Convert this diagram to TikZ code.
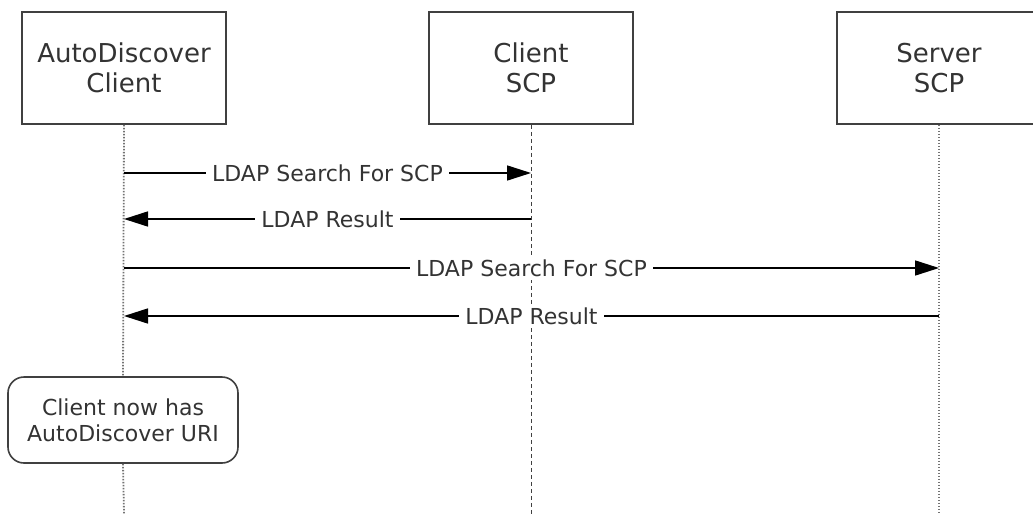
\documentclass[tikz,border=0pt]{standalone}
\usepackage{fontspec}
\setmainfont{DejaVu Sans}
\usetikzlibrary{arrows.meta}

\tikzset{
  actor/.style={draw=black!75, line width=1.6pt, fill=white, minimum width=204pt,
    minimum height=112pt, inner sep=0pt, align=center,
    font=\fontsize{26}{30}\selectfont, text=black!80},
  lifeline/.style={draw=black!55, line width=1.8pt, dash pattern=on 1.5pt off 1.5pt},
  midline/.style={draw=black!75, line width=1pt, dash pattern=on 4pt off 3pt},
  msg/.style={line width=1.6pt, -{Triangle[length=24pt,width=15pt]}},
  msglabel/.style={fill=white, inner xsep=6pt, inner ysep=3pt,
    font=\fontsize{22}{26}\selectfont, text=black!80},
  notebox/.style={draw=black!75, line width=1.6pt, fill=white, rounded corners=16pt,
    minimum width=230pt, minimum height=86pt, inner sep=0pt, align=center,
    font=\fontsize{22}{26}\selectfont, text=black!80}
}

\begin{document}
\begin{tikzpicture}[x=1pt, y=-1pt]
    \useasboundingbox (0,0) rectangle (1033,514);

    % participants
    \node[actor] (client) at (124,68) {AutoDiscover\\Client};
    \node[actor] (clientscp) at (531,68) {Client\\SCP};
    \node[actor] (serverscp) at (939,68) {Server\\SCP};

    % note on the client lifeline
    \node[notebox] (note) at (123,420) {Client now has\\AutoDiscover URI};

    % lifelines
    \coordinate (clientend) at (124,514);
    \coordinate (clientscpend) at (531,514);
    \coordinate (serverscpend) at (939,514);
    \draw[lifeline] (client.south) -- (note.north);
    \draw[lifeline] (note.south) -- (clientend);
    \draw[midline] (clientscp.south) -- (clientscpend);
    \draw[lifeline] (serverscp.south) -- (serverscpend);

    % messages
    \draw[msg] (client |- 0,173) -- node[msglabel] {LDAP Search For SCP} (clientscp |- 0,173);
    \draw[msg] (clientscp |- 0,219) -- node[msglabel] {LDAP Result} (client |- 0,219);
    \draw[msg] (client |- 0,268) -- node[msglabel] {LDAP Search For SCP} (serverscp |- 0,268);
    \draw[msg] (serverscp |- 0,316) -- node[msglabel] {LDAP Result} (client |- 0,316);
\end{tikzpicture}
\end{document}
